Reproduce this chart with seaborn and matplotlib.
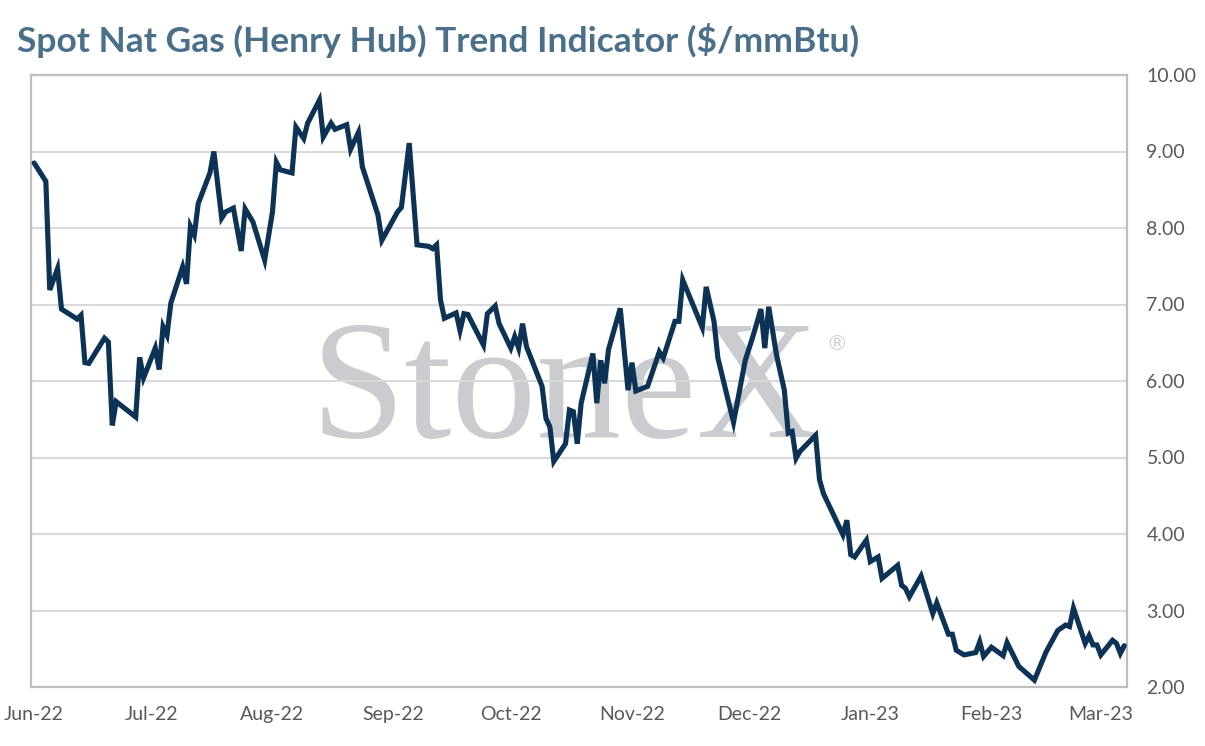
import matplotlib
matplotlib.use("Agg")
import matplotlib.pyplot as plt
import matplotlib.dates as mdates
import seaborn as sns
import pandas as pd

title = "Spot Nat Gas (Henry Hub) Trend Indicator ($/mmBtu)"

dates = [
    "2022-06-01", "2022-06-04", "2022-06-05", "2022-06-07", "2022-06-08", "2022-06-12",
    "2022-06-13", "2022-06-14", "2022-06-15", "2022-06-19", "2022-06-20", "2022-06-21",
    "2022-06-22", "2022-06-27", "2022-06-28", "2022-06-29", "2022-07-02", "2022-07-03",
    "2022-07-04", "2022-07-05", "2022-07-06", "2022-07-09", "2022-07-10", "2022-07-11",
    "2022-07-12", "2022-07-13", "2022-07-16", "2022-07-17", "2022-07-19", "2022-07-20",
    "2022-07-22", "2022-07-24", "2022-07-25", "2022-07-27", "2022-07-30", "2022-08-01",
    "2022-08-02", "2022-08-03", "2022-08-06", "2022-08-07", "2022-08-09", "2022-08-10",
    "2022-08-13", "2022-08-14", "2022-08-16", "2022-08-17", "2022-08-20", "2022-08-21",
    "2022-08-23", "2022-08-24", "2022-08-28", "2022-08-29", "2022-09-02", "2022-09-03",
    "2022-09-05", "2022-09-07", "2022-09-10", "2022-09-11", "2022-09-12", "2022-09-13",
    "2022-09-14", "2022-09-17", "2022-09-18", "2022-09-19", "2022-09-20", "2022-09-24",
    "2022-09-25", "2022-09-27", "2022-09-28", "2022-10-01", "2022-10-02", "2022-10-03",
    "2022-10-04", "2022-10-05", "2022-10-09", "2022-10-10", "2022-10-11", "2022-10-12",
    "2022-10-15", "2022-10-16", "2022-10-17", "2022-10-18", "2022-10-19", "2022-10-22",
    "2022-10-23", "2022-10-24", "2022-10-25", "2022-10-26", "2022-10-29", "2022-10-31",
    "2022-11-01", "2022-11-02", "2022-11-05", "2022-11-08", "2022-11-09", "2022-11-12",
    "2022-11-13", "2022-11-14", "2022-11-19", "2022-11-20", "2022-11-22", "2022-11-23",
    "2022-11-27", "2022-11-30", "2022-12-02", "2022-12-04", "2022-12-05", "2022-12-06",
    "2022-12-08", "2022-12-10", "2022-12-11", "2022-12-12", "2022-12-13", "2022-12-14",
    "2022-12-18", "2022-12-19", "2022-12-20", "2022-12-25", "2022-12-26", "2022-12-27",
    "2022-12-28", "2022-12-31", "2023-01-01", "2023-01-03", "2023-01-04", "2023-01-08",
    "2023-01-09", "2023-01-10", "2023-01-11", "2023-01-14", "2023-01-17", "2023-01-18",
    "2023-01-21", "2023-01-22", "2023-01-23", "2023-01-25", "2023-01-28", "2023-01-29",
    "2023-01-30", "2023-02-01", "2023-02-04", "2023-02-05", "2023-02-08", "2023-02-12",
    "2023-02-15", "2023-02-18", "2023-02-20", "2023-02-21", "2023-02-22", "2023-02-25",
    "2023-02-26", "2023-02-27", "2023-02-28", "2023-03-01", "2023-03-04", "2023-03-05",
    "2023-03-06", "2023-03-07",
]

prices = [
    8.85, 8.61, 7.19, 7.47, 6.94, 6.81,
    6.86, 6.24, 6.23, 6.56, 6.51, 5.42,
    5.73, 5.53, 6.31, 6.04, 6.43, 6.15,
    6.71, 6.60, 7.02, 7.49, 7.27, 8.02,
    7.91, 8.32, 8.72, 9.00, 8.13, 8.21,
    8.26, 7.70, 8.25, 8.08, 7.58, 8.21,
    8.86, 8.76, 8.72, 9.32, 9.17, 9.37,
    9.67, 9.19, 9.37, 9.29, 9.35, 9.03,
    9.25, 8.80, 8.17, 7.84, 8.21, 8.27,
    9.11, 7.78, 7.76, 7.73, 7.78, 7.06,
    6.82, 6.89, 6.66, 6.88, 6.87, 6.47,
    6.88, 6.98, 6.75, 6.43, 6.58, 6.43,
    6.75, 6.45, 5.93, 5.51, 5.40, 4.95,
    5.18, 5.62, 5.60, 5.18, 5.71, 6.36,
    5.71, 6.27, 5.97, 6.41, 6.95, 5.88,
    6.24, 5.87, 5.93, 6.38, 6.30, 6.78,
    6.78, 7.32, 6.70, 7.23, 6.78, 6.30,
    5.46, 6.27, 6.59, 6.94, 6.43, 6.97,
    6.34, 5.88, 5.32, 5.34, 4.99, 5.08,
    5.29, 4.71, 4.53, 3.99, 4.18, 3.73,
    3.70, 3.92, 3.64, 3.70, 3.42, 3.59,
    3.33, 3.29, 3.18, 3.45, 2.96, 3.10,
    2.69, 2.69, 2.48, 2.42, 2.45, 2.59,
    2.40, 2.52, 2.41, 2.58, 2.27, 2.09,
    2.46, 2.74, 2.81, 2.79, 3.03, 2.57,
    2.67, 2.55, 2.55, 2.42, 2.61, 2.57,
    2.44, 2.54,
]

y_ticks = [2, 3, 4, 5, 6, 7, 8, 9, 10]

df = pd.DataFrame({"date": pd.to_datetime(dates), "price": prices})

sns.set_style("white")
plt.rcParams["font.family"] = ["Lato", "DejaVu Sans"]

fig = plt.figure(figsize=(12.05, 7.46), dpi=100)
ax = fig.add_axes([31 / 1205, 1 - 687 / 746, (1127 - 31) / 1205, (687 - 75) / 746])

sns.lineplot(data=df, x="date", y="price", ax=ax, color="#0c3356",
             linewidth=3.7, zorder=3, solid_joinstyle="miter")

start = pd.Timestamp("2022-06-01")
ax.set_xlim(start - pd.Timedelta(days=0.8), start + pd.Timedelta(days=279.7))
ax.set_ylim(2, 10)
ax.set_yticks(y_ticks)
ax.yaxis.set_major_formatter(matplotlib.ticker.FormatStrFormatter("%.2f"))
ax.yaxis.tick_right()
ax.xaxis.set_major_locator(mdates.MonthLocator())
ax.xaxis.set_major_formatter(mdates.DateFormatter("%b-%y"))
ax.tick_params(axis="both", length=0, labelsize=14, colors="#595959")
ax.tick_params(axis="y", pad=14)
ax.tick_params(axis="x", pad=14)
ax.set_xlabel("")
ax.set_ylabel("")

ax.grid(axis="y", color="#d9d9d9", linewidth=1.5)
ax.grid(axis="x", visible=False)
ax.set_axisbelow(True)
for s in ax.spines.values():
    s.set_visible(True)
    s.set_color("#bfbfbf")
    s.set_linewidth(1.6)

ax.text(0.487, 0.408, "StoneX", transform=ax.transAxes, ha="center", va="baseline",
        fontsize=122, family=["Liberation Serif", "DejaVu Serif"], color="#cbccd0", zorder=0.1)
ax.text(0.735, 0.56, "\u00ae", transform=ax.transAxes, ha="center", va="center",
        fontsize=15, family=["DejaVu Sans"], color="#cbccd0", zorder=0.1)

fig.text(17 / 1205, 1 - 40 / 746, title, ha="left", va="center", fontsize=25.5,
         fontweight="bold", color="#4a7089")

fig.savefig("out.png", dpi=100)
